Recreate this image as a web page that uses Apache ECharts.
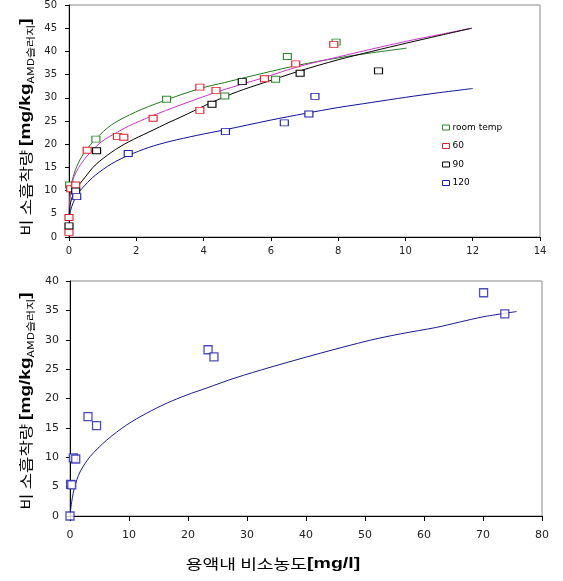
<!DOCTYPE html>
<html><head><meta charset="utf-8">
<script src="https://cdn.jsdelivr.net/npm/echarts@6/dist/echarts.min.js"></script>
<style>html,body{margin:0;padding:0;background:#fff}#c{width:563px;height:581px}</style>
</head><body><div id="c"></div>
<script>
// ---- Top chart data (x: solution As conc mg/l, y: adsorbed mg/kg) ----
const seriesNames = ['room temp', '60', '90', '120'];
const roomPts = [[0.02,11.2],[0.8,21.1],[2.9,29.7],[4.63,30.4],[6.14,34.0],[6.49,38.9],[7.94,42.0]];
const t60Pts = [[0,1.0],[0,4.2],[0.05,10.4],[0.2,11.2],[0.54,18.7],[1.44,21.7],[1.63,21.5],[2.5,25.6],[3.89,27.3],[3.89,32.3],[4.37,31.6],[5.81,34.1],[6.74,37.3],[7.87,41.5]];
const t90Pts = [[0,2.4],[0.2,9.9],[0.82,18.6],[4.25,28.6],[5.15,33.5],[6.87,35.3],[9.2,35.8]];
const t120Pts = [[0.23,8.7],[1.76,18.0],[4.65,22.7],[6.4,24.6],[7.13,26.5],[7.31,30.3]];
// fitted curves
const roomCurve = [[0.005,4.5],[0.02,8],[0.05,10.5],[0.1,12.3],[0.23,15.2],[0.44,18.0],[0.79,21.1],[1.27,24.2],[1.97,26.9],[2.76,29.2],[3.89,32.0],[4.63,33.3],[5.77,35.3],[6.86,37.1],[8,38.6],[9,39.7],[10.04,40.7]];
const t60Curve = [[0.005,3.5],[0.02,7],[0.06,10.6],[0.15,13],[0.29,15],[0.53,17.4],[0.98,20.6],[1.44,22.6],[1.77,23.9],[2.47,26.1],[3.0,27.6],[3.9,30.0],[4.63,31.8],[5.77,34.3],[6.86,36.8],[8,38.8],[9,40.5],[10.04,42.2],[11,43.6],[11.97,45.0]];
const t90Curve = [[0.01,4],[0.05,7.5],[0.19,10.1],[0.48,12.9],[0.78,15.5],[1.27,18.3],[1.77,20.5],[2.37,22.6],[3.0,24.8],[3.31,25.8],[4.24,29.0],[5.0,31.3],[5.77,33.2],[6.86,35.8],[8,38.2],[9,40.0],[10.04,41.8],[11,43.4],[11.97,45.0]];
const t120Curve = [[0.01,3],[0.05,5.8],[0.23,9.0],[0.48,11.2],[0.78,13.3],[1.27,15.8],[1.77,17.6],[2.37,19.3],[3.0,20.6],[3.8,21.9],[4.63,23.1],[6.0,25.2],[7.0,26.6],[8,27.9],[9,29.0],[10,30.1],[11,31.1],[12,32.0]];
// ---- Bottom chart data ----
const botPts = [[0,0],[0.1,5.4],[0.3,5.3],[0.56,9.9],[0.97,9.7],[3.05,16.9],[4.5,15.4],[23.4,28.3],[24.4,27.1],[70.1,38.0],[73.7,34.4]];
const botCurve = [[0.05,0.5],[0.3,2.5],[0.8,5.0],[1.7,7.5],[3.4,10.1],[6.2,12.9],[9.6,15.5],[13,17.5],[16.4,19.2],[19.8,20.6],[23.2,21.8],[28,23.5],[33.9,25.3],[42.4,27.7],[50.8,29.9],[56,31.0],[62.1,32.1],[66,33.0],[70,33.9],[75.7,34.8]];
// tick settings
const topXTicks = {min:0, max:14, interval:2};
const topYTicks = {min:0, max:50, interval:5};
const botXTicks = {min:0, max:80, interval:10};
const botYTicks = {min:0, max:40, interval:5};
const yTitle = ['비 소흡착량 ', '[mg/kg', 'AMD슬러지', ']'];
const xTitle = ['용액내 비소농도', '[mg/l]'];

const sqColors = ['#2a8a2a', '#e0202a', '#000000', '#2020b0'];
const lineColors = ['#1f7a1f', '#cc33cc', '#000000', '#10109a'];
const ptsList = [roomPts, t60Pts, t90Pts, t120Pts];
const curveList = [roomCurve, t60Curve, t90Curve, t120Curve];

const chart = echarts.init(document.getElementById('c'), null, {renderer: 'canvas'});

function axisCommon(t, fontSize, margin, tickLen) {
  return {
    type: 'value', min: t.min, max: t.max, interval: t.interval,
    axisLine: {show: true, onZero: false, lineStyle: {color: '#000', width: 1}},
    axisTick: {show: true, inside: false, length: tickLen, lineStyle: {color: '#000'}},
    splitLine: {show: false},
    axisLabel: {margin: margin, color: '#222', fontFamily: 'DejaVu Sans', fontSize: fontSize}
  };
}

const series = [];
curveList.forEach((c, i) => {
  series.push({type: 'line', name: 'fit' + i, xAxisIndex: 0, yAxisIndex: 0, data: c, smooth: 0.3,
    showSymbol: false, symbol: 'none', lineStyle: {color: lineColors[i], width: 1}, z: 2, silent: true});
});
ptsList.forEach((p, i) => {
  series.push({type: 'scatter', name: seriesNames[i], xAxisIndex: 0, yAxisIndex: 0, data: p,
    symbol: 'rect', symbolSize: [8, 6],
    itemStyle: {color: '#fff', borderColor: sqColors[i], borderWidth: 1, opacity: 1}, z: 3});
});
series.push({type: 'line', name: 'botfit', xAxisIndex: 1, yAxisIndex: 1, data: botCurve, smooth: 0.3,
  showSymbol: false, symbol: 'none', lineStyle: {color: '#1a1a90', width: 1}, z: 2});
series.push({type: 'scatter', name: 'bot', xAxisIndex: 1, yAxisIndex: 1, data: botPts,
  symbol: 'rect', symbolSize: 8, itemStyle: {color: '#fff', borderColor: '#2020b0', borderWidth: 1.3}, z: 3});

const yRich = {
  k: {fontFamily: 'Noto Sans CJK KR', fontSize: 14, lineHeight: 18, fill: '#000'},
  b: {fontFamily: 'Liberation Sans', fontWeight: 'bold', fontSize: 15, lineHeight: 18, fill: '#000'},
  s: {fontFamily: 'Noto Sans CJK KR', fontSize: 9.5, lineHeight: 12, verticalAlign: 'bottom', fill: '#000'}
};
const yText = '{k|' + yTitle[0] + '}{b|' + yTitle[1] + '}{s|' + yTitle[2] + '}{b|' + yTitle[3] + '}';

function yLabel(cx, cy) {
  return {type: 'text', x: cx, y: cy, rotation: Math.PI / 2, scaleX: 1.27, scaleY: 1,
    style: {text: yText, rich: yRich, align: 'center', verticalAlign: 'middle', fill: '#000'}, silent: true};
}

chart.setOption({
  animation: false,
  backgroundColor: '#fff',
  grid: [
    {left: 69, top: 4, width: 471, height: 233, show: true, borderColor: '#888', borderWidth: 1, backgroundColor: 'transparent'},
    {left: 70, top: 281, width: 472, height: 235, show: true, borderColor: '#888', borderWidth: 1, backgroundColor: 'transparent'}
  ],
  xAxis: [
    Object.assign(axisCommon(topXTicks, 10, 9, 4), {gridIndex: 0}),
    Object.assign(axisCommon(botXTicks, 11, 14, 5), {gridIndex: 1})
  ],
  yAxis: [
    Object.assign(axisCommon(topYTicks, 10, 12, 4), {gridIndex: 0}),
    Object.assign(axisCommon(botYTicks, 11, 11, 4), {gridIndex: 1})
  ],
  legend: {
    show: true, orient: 'vertical', left: 437, top: 118, itemWidth: 7, itemHeight: 5, itemGap: 9.5,
    icon: 'rect',
    textStyle: {fontFamily: 'DejaVu Sans', fontSize: 9, color: '#000', padding: [0, 0, 0, -2]},
    data: seriesNames.map((n, i) => ({name: n, itemStyle: {color: '#fff', borderColor: sqColors[i], borderWidth: 1}}))
  },
  graphic: [
    yLabel(26, 127),
    yLabel(26, 401),
    {type: 'text', x: 273, y: 564, scaleX: 1.3, scaleY: 1,
      style: {text: '{k|' + xTitle[0] + '}{b|' + xTitle[1] + '}', align: 'center', verticalAlign: 'middle',
        rich: {k: {fontFamily: 'Noto Sans CJK KR', fontSize: 14, lineHeight: 20, fill: '#000'},
               b: {fontFamily: 'Liberation Sans', fontWeight: 'bold', fontSize: 15, lineHeight: 20, fill: '#000'}}}, silent: true}
  ],
  series: series
});
</script></body></html>
